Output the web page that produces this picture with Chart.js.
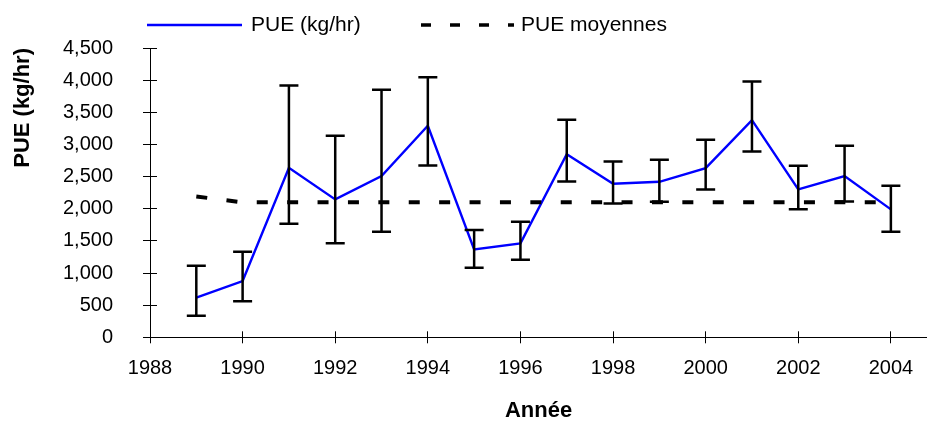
<!DOCTYPE html>
<html>
<head>
<meta charset="utf-8">
<script src="https://cdn.jsdelivr.net/npm/chart.js@4.4.1/dist/chart.umd.min.js"></script>
<style>
    body { margin: 0; background: #fff; overflow: hidden; }
    #wrap { width: 927px; height: 421px; }
</style>
</head>
<body>
<div id="wrap"><canvas id="chart" width="927" height="421"></canvas></div>
<script>
const years = [1989, 1990, 1991, 1992, 1993, 1994, 1995, 1996, 1997, 1998, 1999, 2000, 2001, 2002, 2003, 2004];
const pueValues = [616, 875, 2637, 2145, 2507, 3290, 1368, 1461, 2849, 2388, 2419, 2632, 3378, 2300, 2507, 1990];
const pueHigh = [1113, 1331, 3917, 3134, 3849, 4046, 1668, 1797, 3383, 2736, 2761, 3072, 3979, 2668, 2979, 2357];
const pueLow = [336, 560, 1766, 1461, 1642, 2674, 1082, 1206, 2425, 2083, 2108, 2300, 2891, 1990, 2114, 1642];
const meanValues = [2190, 2100, 2100, 2100, 2100, 2100, 2100, 2100, 2100, 2100, 2100, 2100, 2100, 2100, 2100, 2100];

const seriesLabels = ['PUE (kg/hr)', 'PUE moyennes'];
const xTitle = 'Année';
const yTitle = 'PUE (kg/hr)';
const xMin = 1988, xMax = 2004.78, xStep = 2;
const yMin = 0, yMax = 4500, yStep = 500;

Chart.defaults.font.family = "'Liberation Sans', Arial, sans-serif";
Chart.defaults.color = '#000';

function align(p) {
    return Math.round(p - 0.5) + 0.5;
}

// ticks in Excel cross the axis, so add the inner half
const crossTicks = {
    id: 'crossTicks',
    afterDraw(chart) {
        const ctx = chart.ctx;
        const area = chart.chartArea;
        const xs = chart.scales.x;
        const ys = chart.scales.y;
        ctx.save();
        ctx.strokeStyle = '#000';
        ctx.lineWidth = 1;
        ctx.beginPath();
        ys.ticks.forEach(t => {
            const py = align(ys.getPixelForValue(t.value));
            ctx.moveTo(align(area.left), py);
            ctx.lineTo(area.left + 7, py);
        });
        xs.ticks.forEach(t => {
            const px = align(xs.getPixelForValue(t.value));
            ctx.moveTo(px, align(area.bottom));
            ctx.lineTo(px, area.bottom - 6);
        });
        ctx.stroke();
        ctx.restore();
    }
};

const errorBars = {
    id: 'errorBars',
    afterDatasetsDraw(chart) {
        const ctx = chart.ctx;
        const xs = chart.scales.x;
        const ys = chart.scales.y;
        ctx.save();
        ctx.strokeStyle = '#000';
        ctx.lineWidth = 2.5;
        ctx.lineCap = 'butt';
        years.forEach((yr, i) => {
            const px = xs.getPixelForValue(yr);
            const top = ys.getPixelForValue(pueHigh[i]);
            const bot = ys.getPixelForValue(pueLow[i]);
            ctx.beginPath();
            ctx.moveTo(px, top);
            ctx.lineTo(px, bot);
            ctx.moveTo(px - 9.5, top);
            ctx.lineTo(px + 9.5, top);
            ctx.moveTo(px - 9.5, bot);
            ctx.lineTo(px + 9.5, bot);
            ctx.stroke();
        });
        ctx.restore();
    }
};

const topLegend = {
    id: 'topLegend',
    afterDraw(chart) {
        const ctx = chart.ctx;
        const items = [
            { x0: 147, x1: 242, tx: 251, ds: chart.data.datasets[0], dash: [] , w: 2.4 },
            { x0: 421, x1: 514, tx: 521, ds: chart.data.datasets[1], dash: [10, 19], w: 3.6 }
        ];
        const y = 25;
        ctx.save();
        items.forEach(it => {
            ctx.beginPath();
            ctx.setLineDash(it.dash);
            ctx.lineWidth = it.w;
            ctx.strokeStyle = it.ds.borderColor;
            ctx.moveTo(it.x0, y);
            ctx.lineTo(it.x1, y);
            ctx.stroke();
            ctx.setLineDash([]);
            ctx.fillStyle = '#000';
            ctx.font = "21px 'Liberation Sans', Arial, sans-serif";
            ctx.textBaseline = 'middle';
            ctx.textAlign = 'left';
            ctx.fillText(it.ds.label, it.tx, y);
        });
        ctx.restore();
    }
};

const ctx = document.getElementById('chart').getContext('2d');
const chart = new Chart(ctx, {
    type: 'line',
    data: {
        datasets: [
            {
                label: seriesLabels[0],
                data: years.map((yr, i) => ({ x: yr, y: pueValues[i] })),
                borderColor: '#0000ff',
                borderWidth: 2.4,
                pointRadius: 0,
                tension: 0,
                order: 1
            },
            {
                label: seriesLabels[1],
                data: years.map((yr, i) => ({ x: yr, y: meanValues[i] })),
                borderColor: '#000000',
                borderWidth: 4,
                borderDash: [11, 19.4],
                pointRadius: 0,
                tension: 0,
                order: 0
            }
        ]
    },
    options: {
        responsive: false,
        animation: false,
        layout: {
            padding: { top: 48, right: 0, bottom: 0, left: 0 }
        },
        plugins: {
            legend: { display: false },
            tooltip: { enabled: false }
        },
        scales: {
            x: {
                type: 'linear',
                min: xMin,
                max: xMax,
                afterFit(scale) { scale.height = 83.7; },
                border: { color: '#000', width: 1 },
                grid: { drawOnChartArea: false, tickLength: 6, color: '#000' },
                ticks: {
                    stepSize: xStep,
                    includeBounds: false,
                    padding: 13,
                    font: { size: 20 },
                    callback: v => String(v)
                },
                title: {
                    display: true,
                    text: xTitle,
                    font: { size: 22, weight: 'bold' },
                    padding: { top: 0, bottom: -3 }
                }
            },
            y: {
                min: yMin,
                max: yMax,
                afterFit(scale) { scale.width = 150; },
                border: { color: '#000', width: 1 },
                grid: { drawOnChartArea: false, tickLength: 7, color: '#000' },
                ticks: {
                    stepSize: yStep,
                    padding: 30,
                    font: { size: 20 }
                },
                title: {
                    display: true,
                    text: yTitle,
                    align: 'end',
                    font: { size: 22, weight: 'bold' },
                    padding: { top: 10, bottom: 0 }
                }
            }
        }
    },
    plugins: [crossTicks, errorBars, topLegend]
});
</script>
</body>
</html>
